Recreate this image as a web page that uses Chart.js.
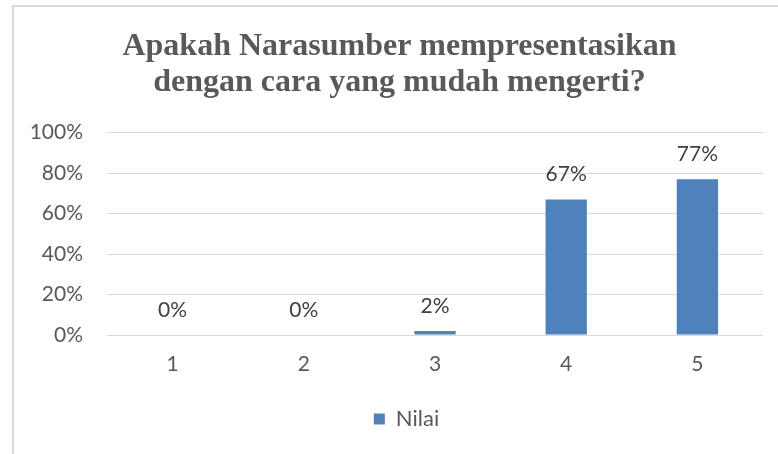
<!DOCTYPE html>
<html>
<head>
<meta charset="utf-8">
<script src="https://cdn.jsdelivr.net/npm/chart.js@4/dist/chart.umd.min.js"></script>
<style>
  html, body { margin: 0; padding: 0; background: #fff; }
  #wrap { position: relative; width: 778px; height: 454px; }
  #frame { position: absolute; left: 12px; top: 5px; right: 0; bottom: 0;
           border-top: 2px solid #d9d9d9; border-left: 2px solid #d9d9d9; pointer-events: none; }
  canvas { position: absolute; left: 0; top: 0; }
</style>
</head>
<body>
<div id="wrap">
  <canvas id="c" width="778" height="454"></canvas>
  <div id="frame"></div>
</div>
<script>
const categories = ['1', '2', '3', '4', '5'];
const nilai = [0, 0, 2, 67, 77];
const yTicks = [0, 20, 40, 60, 80, 100];
const titleLines = ['Apakah Narasumber mempresentasikan', 'dengan cara yang mudah mengerti?'];
const seriesName = 'Nilai';

const dataLabels = {
  id: 'dataLabels',
  afterDatasetsDraw(chart) {
    const ctx = chart.ctx;
    const meta = chart.getDatasetMeta(0);
    ctx.save();
    ctx.font = '21px Lato';
    ctx.fillStyle = '#404040';
    ctx.textAlign = 'center';
    ctx.textBaseline = 'middle';
    meta.data.forEach((bar, i) => {
      ctx.fillText(chart.data.datasets[0].data[i] + '%', bar.x, bar.y - 25);
    });
    ctx.restore();
  }
};

// shift the title and legend boxes so they are centred like the original
const recentre = {
  id: 'recentre',
  afterLayout(chart) {
    if (chart.titleBlock) chart.titleBlock.left += 16;
    if (chart.legend) chart.legend.left += 30;
  }
};

new Chart(document.getElementById('c'), {
  type: 'bar',
  data: {
    labels: categories,
    datasets: [{
      label: seriesName,
      data: nilai,
      backgroundColor: '#4F81BD',
      categoryPercentage: 1,
      barPercentage: 0.315
    }]
  },
  options: {
    responsive: false,
    animation: false,
    layout: { padding: { left: 20, right: 15, top: 12, bottom: 14 } },
    plugins: {
      title: {
        display: true,
        text: titleLines,
        color: '#595959',
        font: { family: '"Liberation Serif", "Times New Roman", serif', size: 32, weight: 'bold', lineHeight: 1.15 },
        padding: { top: 16, bottom: 31 }
      },
      legend: {
        position: 'bottom',
        labels: {
          color: '#595959',
          font: { family: 'Lato', size: 22 },
          boxWidth: 11,
          boxHeight: 11,
          padding: 9
        }
      },
      tooltip: { enabled: false }
    },
    scales: {
      x: {
        grid: { display: false },
        border: { display: false },
        ticks: { color: '#595959', font: { family: 'Lato', size: 21 }, padding: 9 },
        afterFit(s) { s.height = 64; }
      },
      y: {
        min: 0,
        max: 100,
        afterBuildTicks(s) { s.ticks = yTicks.map(v => ({ value: v })); },
        grid: { color: '#d9d9d9', lineWidth: 1, drawTicks: false },
        border: { display: false },
        ticks: {
          color: '#595959',
          font: { family: 'Lato', size: 21 },
          padding: 24,
          callback: v => v + '%'
        },
        afterFit(s) { s.width = 87; }
      }
    }
  },
  plugins: [dataLabels, recentre]
});
</script>
</body>
</html>
